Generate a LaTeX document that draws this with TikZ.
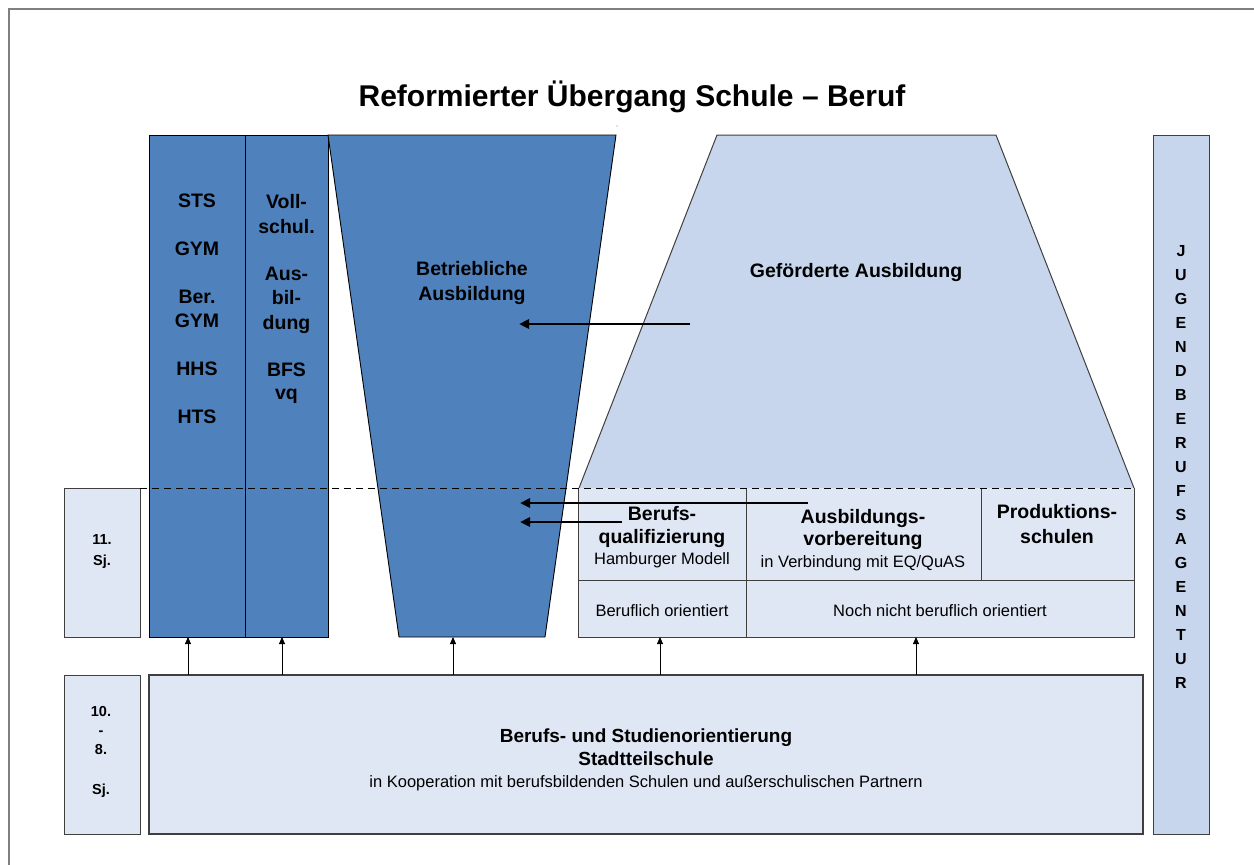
\documentclass[tikz,border=0pt]{standalone}
\usepackage{fontspec}
\setmainfont{Liberation Sans}
\usetikzlibrary{arrows.meta}
\definecolor{dblue}{HTML}{4F81BD}
\definecolor{lblue}{HTML}{C7D6EC}
\definecolor{pblue}{HTML}{E0E7F4}
\definecolor{edge}{HTML}{3F3F3F}
\definecolor{framec}{HTML}{7F7F7F}
\begin{document}
\begin{tikzpicture}[x=1pt,y=-1pt,
  blk/.style={draw=black, line width=0.9pt, fill=dblue, inner sep=0pt, outer sep=0pt, anchor=north west},
  pale/.style={draw=edge, line width=1pt, fill=pblue, inner sep=0pt, outer sep=0pt, anchor=north west},
  pfill/.style={draw=none, fill=pblue, inner sep=0pt, outer sep=0pt, anchor=north west},
  lab/.style={inner sep=0pt, anchor=base, font=\bfseries\fontsize{19.5}{24}\selectfont},
  labs/.style={inner sep=0pt, anchor=base, font=\bfseries\fontsize{14.5}{18}\selectfont},
  laba/.style={inner sep=0pt, anchor=base, font=\bfseries\fontsize{16}{20}\selectfont},
  small/.style={inner sep=0pt, anchor=base, font=\fontsize{16.5}{20}\selectfont},
  bigarrow/.style={-{Triangle[length=10pt,width=9pt]}, line width=2.5pt},
  uparrow/.style={-{Triangle[length=7pt,width=6pt]}, line width=0.8pt},
  shapeline/.style={draw=edge, line width=1pt}
]
\useasboundingbox (0,0) rectangle (1254,865);
% frame
\draw[framec, line width=1.2pt] (9,865) -- (9,9) -- (1254,9);
\fill[gray] (617,126) circle (0.7);
% title
\node[inner sep=0pt, anchor=base, font=\bfseries\fontsize{30}{36}\selectfont] (title) at (632,106) {Reformierter Übergang Schule – Beruf};

% left columns
\node[blk, minimum width=96pt, minimum height=502pt] (col1) at (149,135) {};
\node[blk, minimum width=83pt, minimum height=502pt] (col2) at (245,135) {};

% Betriebliche Ausbildung trapezoid
\draw[fill=dblue, draw=black, line width=0.9pt] (328,135) coordinate (bA) -- (616,135) coordinate (bB) -- (545,637) coordinate (bC) -- (399,637) coordinate (bD) -- cycle;
\coordinate (bbot) at (453,637);

% Gefoerderte Ausbildung trapezoid
\fill[lblue] (579,488) -- (717,135) -- (996,135) -- (1134,488) -- cycle;
\draw[shapeline] (579,488) -- (717,135) -- (996,135) -- (1134,488);

% row of boxes
\node[pfill, minimum width=556pt, minimum height=149pt] (row) at (578,488) {};
\draw[shapeline] (row.north west) -- (row.south west) -- (row.south east) -- (row.north east);
\draw[shapeline] (746,488) -- (746,637);
\draw[shapeline] (981,488) -- (981,580);
\draw[shapeline] (578,580) -- (1134,580);

% school-year boxes
\node[pale, minimum width=76pt, minimum height=149pt] (s11) at (64,488) {};
\node[pale, minimum width=76pt, minimum height=159pt] (s108) at (64,675) {};

% bottom box
\node[pale, line width=1.4pt, minimum width=994pt, minimum height=159pt] (bso) at (149,675) {};

% right bar
\node[pale, fill=lblue, minimum width=56pt, minimum height=699pt] (jba) at (1153,135) {};

% dashed line
\draw[black, line width=0.9pt, dash pattern=on 7pt off 5pt] (s11.north east) -- (row.north east);

% arrows
\coordinate (g1) at (690,324); \coordinate (b1) at (519,324);
\draw[bigarrow] (g1) -- (b1);
\coordinate (a2s) at (808,503); \coordinate (a2e) at (520,503);
\coordinate (a3s) at (622,522); \coordinate (a3e) at (520,522);
\draw[bigarrow] (a2s) -- (a2e);
\draw[bigarrow] (a3s) -- (a3e);

\foreach \x [count=\i] in {188,282,453,660,916} {
  \coordinate (us\i) at (\x,675);
  \coordinate (ue\i) at (\x,637);
  \draw[uparrow] (us\i) -- (ue\i);
}

% texts in columns
\foreach \t/\y [count=\i] in {STS/207, GYM/255, Ber./303, GYM/327, HHS/375, HTS/423}
  \node[lab] (c1t\i) at (197,\y) {\t};
\foreach \t/\y [count=\i] in {Voll-/208, schul./233, Aus-/280, bil-/304, dung/329, BFS/376, vq/399}
  \node[lab] (c2t\i) at (286.5,\y) {\t};

\node[lab] (bet1) at (472,275) {Betriebliche};
\node[lab] (bet2) at (472,300) {Ausbildung};
\node[lab] (gef) at (856,277) {Geförderte Ausbildung};

\node[lab] (bq1) at (662,520) {Berufs-};
\node[lab] (bq2) at (662,543) {qualifizierung};
\node[small] (bq3) at (662,564) {Hamburger Modell};
\node[lab] (av1) at (863,523) {Ausbildungs-};
\node[lab] (av2) at (863,545) {vorbereitung};
\node[small] (av3) at (863,567) {in Verbindung mit EQ/QuAS};
\node[lab] (ps1) at (1057,518) {Produktions-};
\node[lab] (ps2) at (1057,543) {schulen};
\node[small] (bo) at (662,616) {Beruflich orientiert};
\node[small] (nb) at (940,616) {Noch nicht beruflich orientiert};

\node[labs] (sj1) at (102,544) {11.};
\node[labs] (sj2) at (102,565) {Sj.};
\node[labs] (sk1) at (101,716) {10.};
\node[labs] (sk2) at (101,735) {-};
\node[labs] (sk3) at (101,754) {8.};
\node[labs] (sk4) at (101,794) {Sj.};

\node[inner sep=0pt, anchor=base, font=\bfseries\fontsize{19}{23}\selectfont] (bs1) at (646,742) {Berufs- und Studienorientierung};
\node[inner sep=0pt, anchor=base, font=\bfseries\fontsize{19}{23}\selectfont] (bs2) at (646,765) {Stadtteilschule};
\node[small] (bs3) at (646,787) {in Kooperation mit berufsbildenden Schulen und außerschulischen Partnern};

\foreach \l [count=\i] in {J,U,G,E,N,D,B,E,R,U,F,S,A,G,E,N,T,U,R}
  \node[laba] (jl\i) at (1181,{250+24*(\i-1)+6}) {\l};
\end{tikzpicture}
\end{document}
